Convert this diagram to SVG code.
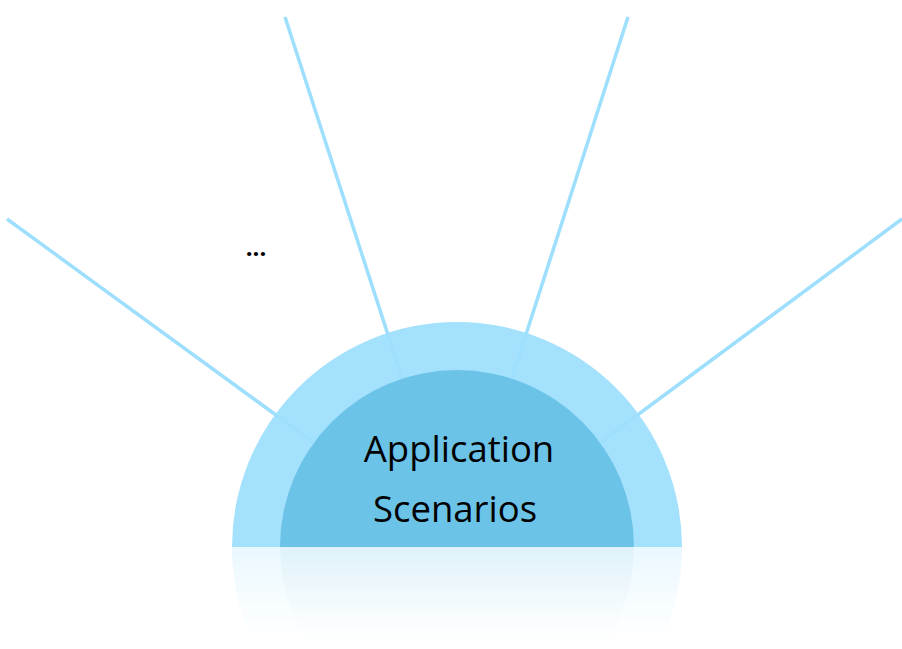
<svg xmlns="http://www.w3.org/2000/svg" width="902" height="649" viewBox="0 0 902 649">
<style>
.ray{stroke:#9ddffd;stroke-width:3.5;fill:none}
.lbl{font-family:"Open Sans","Noto Sans",sans-serif;font-size:36.5px;fill:#000;text-anchor:middle}
</style>
<defs>
<linearGradient id="fade" x1="0" y1="547" x2="0" y2="640" gradientUnits="userSpaceOnUse">
<stop offset="0" stop-color="#fff" stop-opacity="0.22"/>
<stop offset="0.5" stop-color="#fff" stop-opacity="0.1"/>
<stop offset="1" stop-color="#fff" stop-opacity="0"/>
</linearGradient>
<mask id="m"><rect x="0" y="547" width="902" height="102" fill="url(#fade)"/></mask>
</defs>
<rect width="902" height="649" fill="#fff"/>
<g id="connectors">
<line class="ray" x1="7" y1="219" x2="313" y2="442"/>
<line class="ray" x1="285" y1="17" x2="402" y2="378"/>
<line class="ray" x1="628" y1="17" x2="512" y2="378"/>
<line class="ray" x1="902" y1="219" x2="601" y2="442"/>
</g>
<g id="reflection" mask="url(#m)">
<path d="M232,547 A225,225 0 0 0 682,547 Z" fill="#9ddffd"/>
<path d="M280,547 A177,177 0 0 0 634,547 Z" fill="#6cc3e8"/>
</g>
<g id="center">
<path d="M232,547 A225,225 0 0 1 682,547 Z" fill="#9ddffd" fill-opacity="0.93"/>
<path d="M280,547 A177,177 0 0 1 634,547 Z" fill="#6cc3e8"/>
<text class="lbl" x="459" y="462">Application</text>
<text class="lbl" x="455" y="522">Scenarios</text>
</g>
<g id="more">
<text x="256" y="256" style="font-family:'Open Sans','Noto Sans',sans-serif;font-size:24px;font-weight:bold;fill:#000;text-anchor:middle">...</text>
</g>
</svg>
